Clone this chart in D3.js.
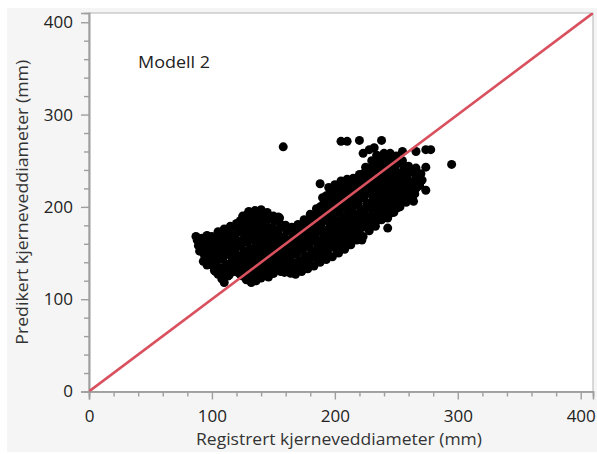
<!DOCTYPE html>
<html>
<head>
<meta charset="utf-8">
<script src="https://cdn.jsdelivr.net/npm/d3@7"></script>
<style>
  html, body { margin: 0; padding: 0; background: #ffffff; }
  svg { display: block; }
  text { font-family: "Open Sans", "Noto Sans", sans-serif; }
</style>
</head>
<body>
<svg id="chart" width="597" height="454"></svg>
<script>
// ---- data ----
const xTicks = [0, 100, 200, 300, 400];
const yTicks = [0, 100, 200, 300, 400];
const xTitle = "Registrert kjerneveddiameter (mm)";
const yTitle = "Predikert kjerneveddiameter (mm)";
const modelLabel = "Modell 2";
const refLine = [[0, 0], [410, 410]];

// [registrert, predikert] in mm
const punkterVenstre = [
  [88,164],[89,158],[90,152],[87,168],
  [92,166],[93,160],[92,154],[94,147],[93,141],
  [96,169],[97,163],[96,157],[98,151],[97,144],[96,137],
  [100,168],[101,162],[100,156],[102,150],[101,143],[100,137],[102,131],
  [105,173],[106,166],[104,160],[106,154],[105,147],[104,141],[106,134],[105,127],
  [110,176],[111,170],[109,164],[111,157],[110,150],[109,144],[111,137],[110,130],[109,123],[110,118],
  [115,179],[114,172],[116,166],[115,159],[114,152],[116,146],[115,139],[116,132],[114,126],
  [120,182],[121,176],[119,169],[121,163],[120,156],[119,149],[121,143],[120,136],[121,129],
  [125,190],[126,184],[124,177],[126,171],[125,164],[124,158],[126,151],[125,145],[124,138],[126,131],[125,125],
  [130,194],[131,188],[129,181],[131,175],[130,168],[129,162],[131,155],[130,149],[129,142],[131,136],[130,129],[131,123],[132,118],
  [135,196],[136,190],[134,184],[136,177],[135,171],[134,164],[136,158],[135,151],[134,145],[136,138],[135,132],[134,125],[136,120],
  [140,196],[141,190],[139,183],[141,177],[140,170],[139,164],[141,157],[140,151],[139,144],[141,138],[140,131],[139,125],
  [145,194],[146,188],[144,182],[146,175],[145,169],[144,162],[146,156],[145,149],[144,143],[146,136],[145,130],[146,124],
  [150,190],[151,184],[149,177],[151,171],[150,164],[149,158],[151,151],[150,145],[149,138],[151,132],[150,128],
  [155,188],[156,181],[154,175],[156,168],[155,162],[154,155],[156,149],[155,142],[154,136],[156,130],
  [160,180],[161,174],[159,167],[161,161],[160,154],[159,148],[161,141],[160,135],[159,129],
  [165,178],[166,172],[164,165],[166,159],[165,152],[164,146],[166,139],[165,133],[164,128]
];
const punkterMidt = [
  [170,181],[171,175],[169,168],[171,162],[170,155],[169,149],[171,142],[170,136],[171,131],
  [175,186],[176,180],[174,173],[176,167],[175,160],[174,154],[176,147],[175,141],[174,136],
  [180,192],[181,186],[179,179],[181,173],[180,166],[179,160],[181,153],[180,147],[179,140],
  [185,198],[186,192],[184,185],[186,179],[185,172],[184,166],[186,159],[185,153],[184,146],[186,142],
  [190,210],[191,204],[189,197],[191,191],[190,184],[189,178],[191,171],[190,165],[189,158],[191,152],[190,146],
  [195,221],[196,215],[194,208],[196,202],[195,195],[194,189],[196,182],[195,176],[194,169],[196,163],[195,157],[194,151],
  [200,224],[201,218],[199,211],[201,205],[200,198],[199,192],[201,185],[200,179],[199,172],[201,166],[200,160],[201,154],
  [205,228],[206,222],[204,215],[206,209],[205,202],[204,196],[206,189],[205,183],[204,176],[206,170],[205,163],[204,157],
  [210,230],[211,224],[209,217],[211,211],[210,204],[209,198],[211,191],[210,185],[209,178],[211,172],[210,166],[211,161],
  [215,231],[216,225],[214,218],[216,212],[215,205],[214,199],[216,192],[215,186],[214,179],[216,173],[215,167]
];
const punkterHoyre = [
  [220,235],[221,229],[219,222],[221,216],[220,209],[219,203],[221,196],[220,190],[219,183],[221,177],[220,171],
  [225,243],[226,237],[224,230],[226,224],[225,217],[224,211],[226,204],[225,198],[224,191],[226,185],[225,178],
  [230,250],[231,244],[229,237],[231,231],[230,224],[229,218],[231,211],[230,205],[229,198],[231,192],[230,185],[231,180],
  [235,255],[236,249],[234,242],[236,236],[235,229],[234,223],[236,216],[235,210],[234,203],[236,197],[235,190],[234,185],
  [240,258],[241,252],[239,245],[241,239],[240,232],[239,226],[241,219],[240,213],[239,206],[241,200],[240,194],
  [245,257],[246,251],[244,244],[246,238],[245,231],[244,225],[246,218],[245,212],[244,205],[246,199],[245,193],
  [250,255],[251,249],[249,242],[251,236],[250,229],[249,223],[251,216],[250,210],[249,203],[251,199],
  [255,250],[256,244],[254,237],[256,231],[255,224],[254,218],[256,212],[255,206],
  [260,244],[261,238],[259,231],[261,225],[260,218],[259,212],
  [265,240],[266,233],[264,227],[266,220],[265,214],
  [270,236],[271,229],[269,223]
];
// interior points between the columns above
const punkterIndre = [
  [98,165],[98,154],[98,141],
  [103,165],[103,152],[103,139],[103,130],
  [108,170],[108,157],[108,144],[108,132],[108,122],
  [113,174],[113,162],[113,149],[113,136],[113,125],
  [118,178],[118,166],[118,153],[118,140],[118,130],
  [123,185],[123,173],[123,160],[123,147],[123,134],[123,127],
  [128,191],[128,178],[128,165],[128,152],[128,139],[128,127],[128,121],
  [133,192],[133,180],[133,167],[133,154],[133,141],[133,128],[133,121],
  [138,193],[138,180],[138,167],[138,154],[138,141],[138,128],
  [143,192],[143,179],[143,166],[143,153],[143,140],[143,127],
  [148,187],[148,174],[148,161],[148,148],[148,135],
  [153,185],[153,172],[153,159],[153,146],[153,133],
  [158,178],[158,164],[158,151],[158,138],[158,131],
  [163,176],[163,163],[163,150],[163,137],[163,131],
  [168,175],[168,162],[168,149],[168,136],
  [173,180],[173,167],[173,154],[173,141],
  [178,185],[178,172],[178,159],[178,146],
  [183,190],[183,176],[183,163],[183,150],
  [188,200],[188,187],[188,174],[188,161],[188,150],
  [193,212],[193,199],[193,186],[193,173],[193,160],
  [198,216],[198,203],[198,190],[198,177],[198,164],[198,157],
  [203,220],[203,207],[203,194],[203,181],[203,168],[203,160],
  [208,225],[208,212],[208,199],[208,186],[208,173],[208,163],
  [213,226],[213,213],[213,200],[213,187],[213,175],
  [218,228],[218,215],[218,202],[218,189],[218,176],
  [223,236],[223,223],[223,210],[223,197],[223,184],
  [228,241],[228,228],[228,215],[228,202],[228,189],
  [233,246],[233,233],[233,220],[233,207],[233,194],[233,186],
  [238,250],[238,237],[238,224],[238,211],[238,198],
  [243,252],[243,239],[243,226],[243,213],[243,200],
  [248,250],[248,237],[248,224],[248,211],[248,201],
  [253,248],[253,235],[253,222],[253,210],
  [258,242],[258,229],[258,216],
  [263,238],[263,225],[263,217],
  [268,233],[268,226]
];
// lower edge of the band
const punkterNedre = [
  [168,127],[173,130],[178,133],[183,136],[188,140],[193,143],[198,146],[203,150],[208,154],
  [213,159],[218,164],[223,168],[228,174],[233,179],[238,186],[243,188],[248,194],[253,200],
  [258,205],[263,209]
];
const punkterSpredt = [
  [158,265],[205,271],[210,271],[220,272],[238,272],
  [223,258],[228,262],[232,264],[234,256],[245,258],[255,260],[266,260],[274,262],[278,262],
  [266,242],[274,243],[269,225],[274,218],[264,206],[258,238],[295,246],
  [188,225],[243,177],[222,164],
  [130,195],[140,197],[154,189],[115,177],
  [132,119],[140,123],[163,130],[150,128]
];

// ---- layout ----
const svg = d3.select("#chart");
const W = 597, H = 454;
const plot = { left: 89, right: 593, top: 13, bottom: 391.5 };

svg.append("rect").attr("x", 7).attr("y", 8).attr("width", W - 7).attr("height", 444)
  .attr("fill", "#f5f5f5");

const x = d3.scaleLinear().domain([0, 410]).range([plot.left, plot.right]);
const y = d3.scaleLinear().domain([0, 410]).range([plot.bottom, plot.top]);

svg.append("rect")
  .attr("x", plot.left).attr("y", plot.top)
  .attr("width", plot.right - plot.left).attr("height", plot.bottom - plot.top)
  .attr("fill", "#ffffff").attr("stroke", "#b4b4b4").attr("stroke-width", 1);

svg.append("clipPath").attr("id", "clip").append("rect")
  .attr("x", plot.left).attr("y", plot.top)
  .attr("width", plot.right - plot.left).attr("height", plot.bottom - plot.top);

// minor ticks every 20
const minor = d3.range(0, 410, 20).filter(v => v % 100 !== 0);

// x axis
const gx = svg.append("g").attr("transform", `translate(0,${plot.bottom})`);
gx.call(d3.axisBottom(x).tickValues(xTicks).tickSize(8).tickPadding(10).tickFormat(d3.format("d")));
gx.append("g").call(d3.axisBottom(x).tickValues(minor).tickSize(5).tickFormat(""));
// y axis
const gy = svg.append("g").attr("transform", `translate(${plot.left},0)`);
gy.call(d3.axisLeft(y).tickValues(yTicks).tickSize(8).tickPadding(8).tickFormat(d3.format("d")));
gy.append("g").call(d3.axisLeft(y).tickValues(minor).tickSize(5).tickFormat(""));

svg.selectAll(".domain").attr("stroke", "#9e9e9e").attr("stroke-width", 1.6);
svg.selectAll(".tick line").attr("stroke", "#9e9e9e").attr("stroke-width", 1.4);
svg.selectAll(".tick text").attr("fill", "#222").style("font-size", "17px")
  .style("font-family", "'Open Sans', 'Noto Sans', sans-serif");

// points
const alle = punkterVenstre.concat(punkterMidt, punkterHoyre, punkterIndre, punkterNedre, punkterSpredt);
svg.append("g").attr("clip-path", "url(#clip)")
  .selectAll("circle").data(alle).join("circle")
  .attr("cx", d => x(d[0])).attr("cy", d => y(d[1]))
  .attr("r", 4.5).attr("fill", "#000");

// reference line
svg.append("path").attr("clip-path", "url(#clip)")
  .datum(refLine)
  .attr("d", d3.line().x(d => x(d[0])).y(d => y(d[1])))
  .attr("stroke", "#d9505f").attr("stroke-width", 2.6).attr("fill", "none");

// labels
svg.append("text").attr("x", 138).attr("y", 68).text(modelLabel)
  .attr("fill", "#222").style("font-size", "17px")
  .attr("textLength", 72).attr("lengthAdjust", "spacingAndGlyphs");

svg.append("text").attr("x", 339).attr("y", 445)
  .attr("text-anchor", "middle").text(xTitle)
  .attr("fill", "#333").style("font-size", "17px")
  .attr("textLength", 286).attr("lengthAdjust", "spacingAndGlyphs");

svg.append("text")
  .attr("transform", `translate(28,${(plot.top + plot.bottom) / 2}) rotate(-90)`)
  .attr("text-anchor", "middle").text(yTitle)
  .attr("fill", "#333").style("font-size", "17px")
  .attr("textLength", 285).attr("lengthAdjust", "spacingAndGlyphs");
</script>
</body>
</html>
